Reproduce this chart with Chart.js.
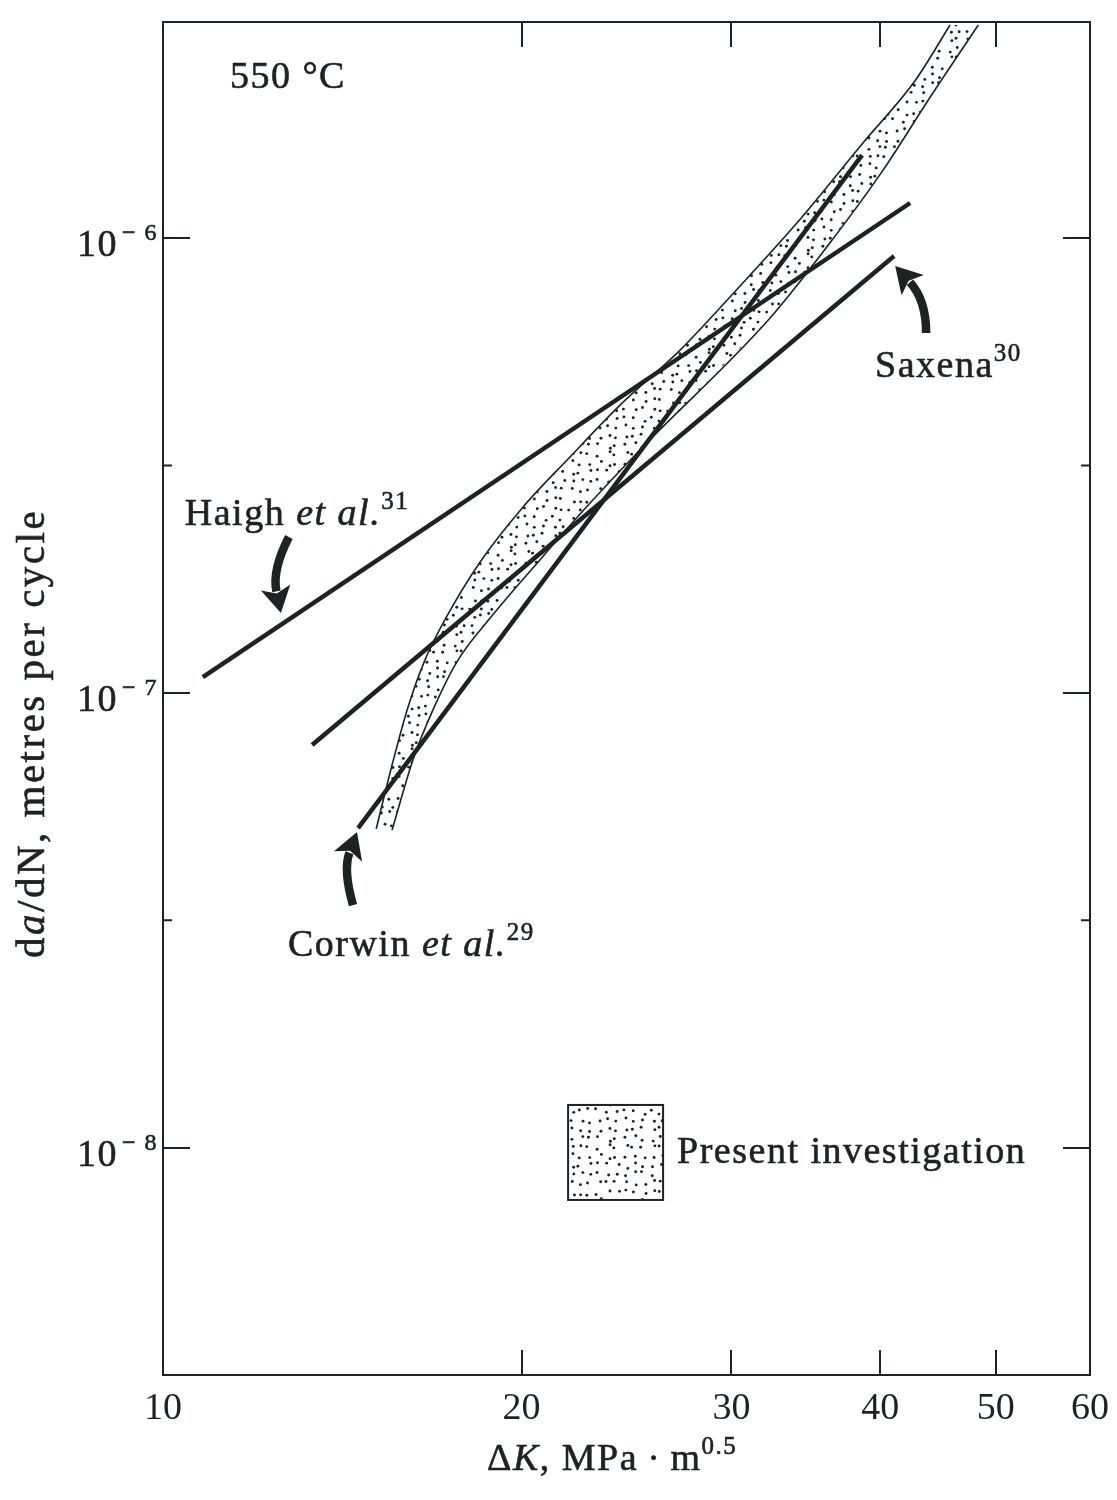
<!DOCTYPE html>
<html>
<head>
<meta charset="utf-8">
<script src="https://cdn.jsdelivr.net/npm/chart.js@4.4.0/dist/chart.umd.min.js"></script>
<style>
  html, body { margin: 0; padding: 0; background: #fff; }
</style>
</head>
<body>
<canvas id="chart" width="1117" height="1500"></canvas>
<script>
// ΔK (MPa·m^0.5) against da/dN (m per cycle)
const bandUpperK = [15.10, 15.51, 16.03, 16.59, 17.25, 18.46, 20.05, 21.96, 24.19, 27.17, 29.92, 34.06, 38.70, 42.80, 45.78];
const bandUpperRate = [5.02e-8, 6.67e-8, 9.17e-8, 1.18e-7, 1.45e-7, 1.94e-7, 2.56e-7, 3.30e-7, 4.29e-7, 5.67e-7, 7.42e-7, 1.08e-6, 1.62e-6, 2.22e-6, 2.94e-6];
const bandLowerK = [15.57, 16.21, 16.85, 17.65, 18.82, 20.72, 22.82, 25.14, 32.33, 36.29, 40.22, 44.05, 48.35];
const bandLowerRate = [4.99e-8, 7.12e-8, 9.17e-8, 1.17e-7, 1.46e-7, 1.96e-7, 2.61e-7, 3.42e-7, 6.67e-7, 9.75e-7, 1.41e-6, 2.04e-6, 2.94e-6];

const haighK = [10.80, 42.38];
const haighRate = [1.083e-7, 1.194e-6];
const saxenaK = [13.34, 41.09];
const saxenaRate = [7.68e-8, 9.13e-7];
const corwinK = [14.58, 38.62];
const corwinRate = [5.04e-8, 1.522e-6];

const xTicks = [10, 20, 30, 40, 50, 60];
const yMajorTicks = [1e-8, 1e-7, 1e-6];
const yExponents = ['8', '7', '6'];
const yMinorTicks = [Math.pow(10, -7.5), Math.pow(10, -6.5)];

const xMin = 10, xMax = 60;
const yMin = Math.pow(10, -8.5), yMax = Math.pow(10, -5.525);

// text placed in data units, arrows: tip in data units, shape in px
const notes = [
  { k: 11.38, r: 2.137e-6, runs: [['550 °C', 'n']] },
  { k: 10.43, r: 2.339e-7, runs: [['Haigh ', 'n'], ['et al.', 'i'], ['31', 's']] },
  { k: 39.6, r: 4.948e-7, runs: [['Saxena', 'n'], ['30', 's']] },
  { k: 12.73, r: 2.638e-8, runs: [['Corwin ', 'n'], ['et al.', 'i'], ['29', 's']] },
  { k: 27.01, r: 9.25e-9, runs: [['Present investigation', 'n']] }
];
const arrows = [
  { k: 12.56, r: 1.498e-7, tail: [8, -76], ctrl: [-9, -43] },
  { k: 41.17, r: 8.68e-7, tail: [31, 67], ctrl: [31, 34] },
  { k: 14.55, r: 4.94e-8, tail: [-4, 73], ctrl: [-14, 38] }
];
const legendBox = { k: 21.88, r: 1.241e-8, size: 95 };

const serif = '"Liberation Serif", "Times New Roman", serif';
const ink = '#1b2323';

const canvas = document.getElementById('chart');
const ctx0 = canvas.getContext('2d');

// stipple used for the scatter band
function makeDots() {
  const c = document.createElement('canvas');
  c.width = 99; c.height = 99;
  const g = c.getContext('2d');
  g.fillStyle = ink;
  let s = 12345;
  const next = () => { s = (s * 16807) % 2147483647; return s / 2147483647; };
  for (let i = 0; i < 11; i++) {
    for (let j = 0; j < 11; j++) {
      const x = i * 9 + 1.5 + next() * 6;
      const y = j * 9 + 1.5 + next() * 6;
      g.beginPath();
      g.arc(x, y, 1.45, 0, Math.PI * 2);
      g.fill();
    }
  }
  return ctx0.createPattern(c, 'repeat');
}
const dots = makeDots();

const toPts = (ks, rs) => ks.map((k, i) => ({ x: k, y: rs[i] }));
const bandShape = toPts(bandUpperK, bandUpperRate).concat(toPts(bandLowerK, bandLowerRate).reverse());

// text with italic and superscript parts, lightly stroked to match the print weight
function drawRuns(ctx, runs, x, y, size) {
  ctx.lineWidth = 0.6;
  for (const [t, st] of runs) {
    const sz = st === 's' ? Math.round(size * 0.65) : size;
    ctx.font = (st === 'i' ? 'italic ' : '') + sz + 'px ' + serif;
    const yy = st === 's' ? y - size * 0.42 : y;
    ctx.fillText(t, x, yy);
    ctx.strokeText(t, x, yy);
    x += ctx.measureText(t).width;
  }
  return x;
}

function drawArrow(ctx, tx, ty, a) {
  const sx = tx + a.tail[0], sy = ty + a.tail[1];
  const cx = tx + a.ctrl[0], cy = ty + a.ctrl[1];
  const len = Math.hypot(tx - cx, ty - cy);
  const ux = (tx - cx) / len, uy = (ty - cy) / len;
  const bx = tx - ux * 26, by = ty - uy * 26;
  ctx.lineWidth = 8.5;
  ctx.lineCap = 'butt';
  ctx.beginPath();
  ctx.moveTo(sx, sy);
  ctx.quadraticCurveTo(cx, cy, bx + ux * 4, by + uy * 4);
  ctx.stroke();
  ctx.beginPath();
  ctx.moveTo(tx, ty);
  ctx.lineTo(bx - uy * 15, by + ux * 15);
  ctx.lineTo(bx + ux * 6, by + uy * 6);
  ctx.lineTo(bx + uy * 15, by - ux * 15);
  ctx.closePath();
  ctx.fill();
}

const overlay = {
  id: 'overlay',
  afterDraw(chart) {
    const { ctx, chartArea: a, scales } = chart;
    const x = scales.x, y = scales.y;
    ctx.save();
    ctx.fillStyle = ink;
    ctx.strokeStyle = ink;

    // half-decade ticks, both sides
    ctx.lineWidth = 2;
    yMinorTicks.forEach(v => {
      const py = y.getPixelForValue(v);
      ctx.beginPath();
      ctx.moveTo(a.left, py); ctx.lineTo(a.left + 9, py);
      ctx.moveTo(a.right, py); ctx.lineTo(a.right - 9, py);
      ctx.stroke();
    });

    // y tick labels 10^-n
    ctx.letterSpacing = '1.5px';
    ctx.textAlign = 'right';
    ctx.textBaseline = 'alphabetic';
    ctx.lineWidth = 0.6;
    yMajorTicks.forEach((v, i) => {
      const py = y.getPixelForValue(v);
      ctx.font = '24px ' + serif;
      const sup = '\u2212 ' + yExponents[i];
      ctx.fillText(sup, a.left - 5, py + 2);
      ctx.strokeText(sup, a.left - 5, py + 2);
      const w = ctx.measureText(sup).width;
      ctx.font = '38px ' + serif;
      ctx.fillText('10', a.left - 9 - w, py + 18);
      ctx.strokeText('10', a.left - 9 - w, py + 18);
    });

    ctx.textAlign = 'left';
    // axis titles
    drawRuns(ctx, [['\u0394', 'n'], ['K', 'i'], [', MPa\u2009\u00b7\u2009m', 'n'], ['0.5', 's']], a.left + 324, a.bottom + 95, 38);
    ctx.save();
    ctx.letterSpacing = '2.5px';
    ctx.translate(a.left - 119, a.top + 936);
    ctx.rotate(-Math.PI / 2);
    drawRuns(ctx, [['d', 'n'], ['a', 'i'], ['/dN, metres per cycle', 'n']], 0, 0, 41);
    ctx.restore();

    // labels in the plot
    notes.forEach(n => {
      drawRuns(ctx, n.runs, x.getPixelForValue(n.k), y.getPixelForValue(n.r), 38);
    });
    arrows.forEach(ar => {
      drawArrow(ctx, x.getPixelForValue(ar.k), y.getPixelForValue(ar.r), ar);
    });

    // key box for the band
    const bx = x.getPixelForValue(legendBox.k), by = y.getPixelForValue(legendBox.r);
    ctx.fillStyle = dots;
    ctx.fillRect(bx, by, legendBox.size, legendBox.size);
    ctx.lineWidth = 2;
    ctx.strokeRect(bx, by, legendBox.size, legendBox.size);
    ctx.restore();
  }
};

const lineStyle = { borderColor: ink, pointRadius: 0, fill: false };
const noMargins = s => { s.paddingLeft = 0; s.paddingRight = 0; s.paddingTop = 0; s.paddingBottom = 0; };
const logAxis = (pos, min, max) => ({
  type: 'logarithmic', position: pos, min: min, max: max,
  border: { display: true, color: ink, width: 2 }
});

new Chart(canvas, {
  type: 'line',
  data: {
    datasets: [
      { label: 'Haigh et al.', data: toPts(haighK, haighRate), borderWidth: 4.5, ...lineStyle },
      { label: 'Saxena', data: toPts(saxenaK, saxenaRate), borderWidth: 4.5, ...lineStyle },
      { label: 'Corwin et al.', data: toPts(corwinK, corwinRate), borderWidth: 4.5, ...lineStyle },
      { label: 'band upper', data: toPts(bandUpperK, bandUpperRate), borderWidth: 1.6, cubicInterpolationMode: 'monotone', ...lineStyle },
      { label: 'band lower', data: toPts(bandLowerK, bandLowerRate), borderWidth: 1.6, cubicInterpolationMode: 'monotone', ...lineStyle },
      { label: 'Present investigation', data: bandShape, borderWidth: 0, borderColor: 'rgba(0,0,0,0)',
        backgroundColor: dots, fill: 'shape', pointRadius: 0, tension: 0 }
    ]
  },
  options: {
    responsive: false,
    animation: false,
    devicePixelRatio: 1,
    layout: { padding: 0 },
    plugins: { legend: { display: false }, tooltip: { enabled: false } },
    scales: {
      x: {
        ...logAxis('bottom', xMin, xMax),
        afterBuildTicks: s => { s.ticks = xTicks.map(v => ({ value: v })); },
        afterFit: s => { s.height = 125; noMargins(s); },
        grid: { display: true, drawOnChartArea: false, tickLength: -25, color: ink, lineWidth: 2 },
        ticks: { padding: 36, color: ink, autoSkip: false, maxRotation: 0,
          font: { family: serif, size: 38 }, callback: v => String(v) }
      },
      x2: {
        ...logAxis('top', xMin, xMax),
        afterBuildTicks: s => { s.ticks = xTicks.map(v => ({ value: v })); },
        afterFit: s => { s.height = 22; noMargins(s); },
        grid: { display: true, drawOnChartArea: false, tickLength: -25, color: ink, lineWidth: 2 },
        ticks: { display: false }
      },
      y: {
        ...logAxis('left', yMin, yMax),
        afterBuildTicks: s => { s.ticks = yMajorTicks.map(v => ({ value: v })); },
        afterFit: s => { s.width = 163; noMargins(s); },
        grid: { display: true, drawOnChartArea: false, tickLength: -27, color: ink, lineWidth: 2 },
        ticks: { display: false }
      },
      y2: {
        ...logAxis('right', yMin, yMax),
        afterBuildTicks: s => { s.ticks = yMajorTicks.map(v => ({ value: v })); },
        afterFit: s => { s.width = 27; noMargins(s); },
        grid: { display: true, drawOnChartArea: false, tickLength: -27, color: ink, lineWidth: 2 },
        ticks: { display: false }
      }
    }
  },
  plugins: [overlay]
});
</script>
</body>
</html>
